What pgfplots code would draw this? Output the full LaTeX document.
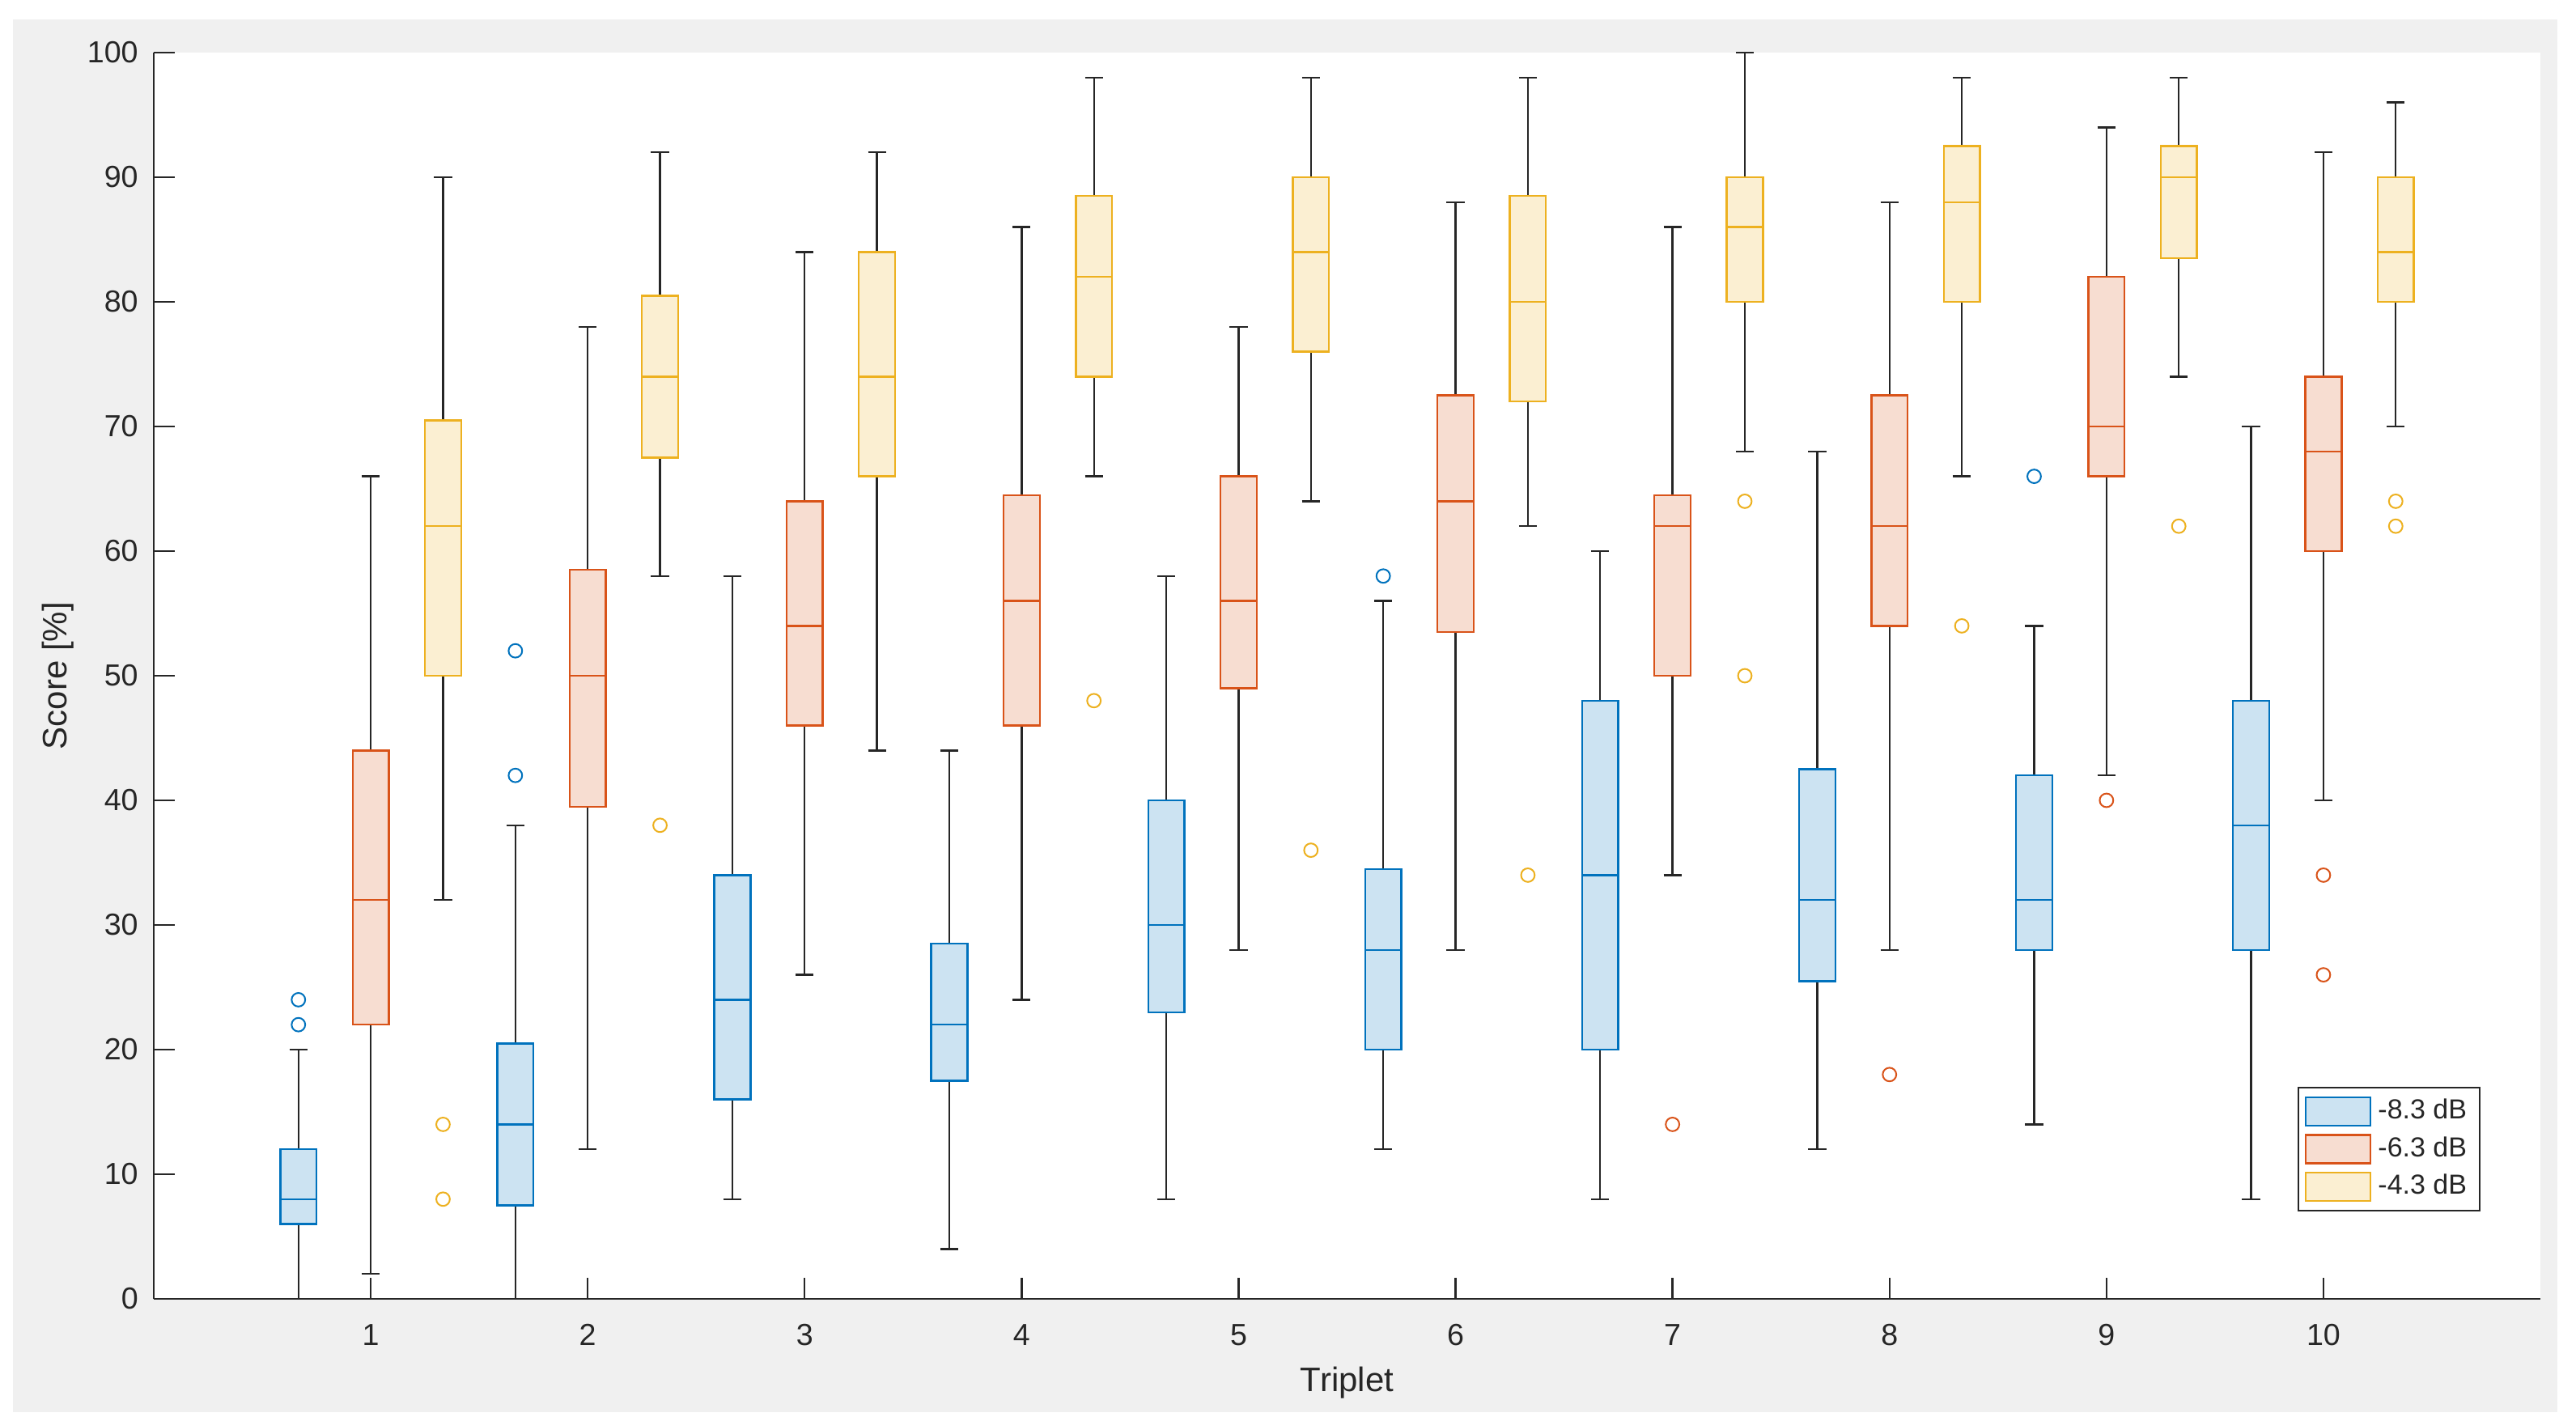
\documentclass[border=0pt]{standalone}
\usepackage{pgfplots}
\pgfplotsset{compat=1.18}
\usepgfplotslibrary{statistics}
\usepackage{fontspec}
\setmainfont{Liberation Sans}

\definecolor{cA}{HTML}{0072BD}
\definecolor{fA}{HTML}{CCE3F2}
\definecolor{cB}{HTML}{D95319}
\definecolor{fB}{HTML}{F7DDD1}
\definecolor{cC}{HTML}{EDB120}
\definecolor{fC}{HTML}{FBEFD2}
\definecolor{wk}{HTML}{262626}
\definecolor{bg}{HTML}{F0F0F0}

\pgfplotsset{
  bx/.style n args={2}{#1, forget plot, mark=o, mark size=2.1pt,
    mark options={solid, line width=0.5pt, draw=#1, fill=none},
    boxplot/draw direction=y,
    boxplot/box extend=0.167, boxplot/whisker extend=0.083,
    boxplot/every box/.style={draw=#1, fill=#2, line width=0.6pt},
    boxplot/every median/.style={draw=#1, line width=0.6pt},
    boxplot/every whisker/.style={draw=wk, line width=0.6pt}},
  bA/.style={bx={cA}{fA}},
  bB/.style={bx={cB}{fB}},
  bC/.style={bx={cC}{fC}},
}

\begin{document}
\begin{tikzpicture}
% figure background (MATLAB grey)
\fill[white] (-47.5pt,-36.25pt) rectangle (748.25pt,401.25pt);
\fill[bg] (-43.5pt,-35pt) rectangle (742.5pt,395.25pt);
\begin{axis}[
  scale only axis,
  width=737.25pt, height=385pt,
  xmin=0, xmax=11, ymin=0, ymax=100,
  xtick={1,...,10}, ytick={0,10,...,100},
  axis lines=left,
  axis line style={-, draw=wk, line width=0.6pt},
  tick style={draw=wk, line width=0.6pt},
  major tick length=6.5pt, tick align=inside,
  axis background/.style={fill=white},
  clip=false,
  /pgf/number format/assume math mode=true,
  tick label style={font=\fontsize{9.4}{11}\selectfont, text=wk},
  xticklabel style={anchor=base, yshift=-14.25pt},
  yticklabel style={xshift=-1.3pt},
  xlabel={Triplet}, ylabel={Score [\%]},
  label style={font=\fontsize{10.5}{12}\selectfont, text=wk},
  xlabel style={at={(axis description cs:0.5,-0.0746)}, anchor=base},
  ylabel style={at={(axis description cs:-0.0403,0.5)}, anchor=center},
  legend cell align=left,
  legend style={at={(axis description cs:0.975,0.07)}, anchor=south east,
    draw=wk, line width=0.6pt, fill=white, text=wk,
    font=\fontsize{8.5}{10}\selectfont, inner xsep=2pt, inner ysep=1.5pt, row sep=0pt},
]
\addlegendimage{legend image code/.code={\draw[draw=cA, fill=fA, line width=0.6pt] (0pt,-4.4pt) rectangle (20pt,4.4pt);}}
\addlegendentry{-8.3 dB}
\addlegendimage{legend image code/.code={\draw[draw=cB, fill=fB, line width=0.6pt] (0pt,-4.4pt) rectangle (20pt,4.4pt);}}
\addlegendentry{-6.3 dB}
\addlegendimage{legend image code/.code={\draw[draw=cC, fill=fC, line width=0.6pt] (0pt,-4.4pt) rectangle (20pt,4.4pt);}}
\addlegendentry{-4.3 dB}

% Triplet 1
\addplot[bA, boxplot prepared={draw position=0.6667, lower whisker=0, lower quartile=6, median=8, upper quartile=12, upper whisker=20}] coordinates {(0,22) (0,24)};
\addplot[bB, boxplot prepared={draw position=1, lower whisker=2, lower quartile=22, median=32, upper quartile=44, upper whisker=66}] coordinates {};
\addplot[bC, boxplot prepared={draw position=1.3333, lower whisker=32, lower quartile=50, median=62, upper quartile=70.5, upper whisker=90}] coordinates {(0,8) (0,14)};
% Triplet 2
\addplot[bA, boxplot prepared={draw position=1.6667, lower whisker=0, lower quartile=7.5, median=14, upper quartile=20.5, upper whisker=38}] coordinates {(0,42) (0,52)};
\addplot[bB, boxplot prepared={draw position=2, lower whisker=12, lower quartile=39.5, median=50, upper quartile=58.5, upper whisker=78}] coordinates {};
\addplot[bC, boxplot prepared={draw position=2.3333, lower whisker=58, lower quartile=67.5, median=74, upper quartile=80.5, upper whisker=92}] coordinates {(0,38)};
% Triplet 3
\addplot[bA, boxplot prepared={draw position=2.6667, lower whisker=8, lower quartile=16, median=24, upper quartile=34, upper whisker=58}] coordinates {};
\addplot[bB, boxplot prepared={draw position=3, lower whisker=26, lower quartile=46, median=54, upper quartile=64, upper whisker=84}] coordinates {};
\addplot[bC, boxplot prepared={draw position=3.3333, lower whisker=44, lower quartile=66, median=74, upper quartile=84, upper whisker=92}] coordinates {};
% Triplet 4
\addplot[bA, boxplot prepared={draw position=3.6667, lower whisker=4, lower quartile=17.5, median=22, upper quartile=28.5, upper whisker=44}] coordinates {};
\addplot[bB, boxplot prepared={draw position=4, lower whisker=24, lower quartile=46, median=56, upper quartile=64.5, upper whisker=86}] coordinates {};
\addplot[bC, boxplot prepared={draw position=4.3333, lower whisker=66, lower quartile=74, median=82, upper quartile=88.5, upper whisker=98}] coordinates {(0,48)};
% Triplet 5
\addplot[bA, boxplot prepared={draw position=4.6667, lower whisker=8, lower quartile=23, median=30, upper quartile=40, upper whisker=58}] coordinates {};
\addplot[bB, boxplot prepared={draw position=5, lower whisker=28, lower quartile=49, median=56, upper quartile=66, upper whisker=78}] coordinates {};
\addplot[bC, boxplot prepared={draw position=5.3333, lower whisker=64, lower quartile=76, median=84, upper quartile=90, upper whisker=98}] coordinates {(0,36)};
% Triplet 6
\addplot[bA, boxplot prepared={draw position=5.6667, lower whisker=12, lower quartile=20, median=28, upper quartile=34.5, upper whisker=56}] coordinates {(0,58)};
\addplot[bB, boxplot prepared={draw position=6, lower whisker=28, lower quartile=53.5, median=64, upper quartile=72.5, upper whisker=88}] coordinates {};
\addplot[bC, boxplot prepared={draw position=6.3333, lower whisker=62, lower quartile=72, median=80, upper quartile=88.5, upper whisker=98}] coordinates {(0,34)};
% Triplet 7
\addplot[bA, boxplot prepared={draw position=6.6667, lower whisker=8, lower quartile=20, median=34, upper quartile=48, upper whisker=60}] coordinates {};
\addplot[bB, boxplot prepared={draw position=7, lower whisker=34, lower quartile=50, median=62, upper quartile=64.5, upper whisker=86}] coordinates {(0,14)};
\addplot[bC, boxplot prepared={draw position=7.3333, lower whisker=68, lower quartile=80, median=86, upper quartile=90, upper whisker=100}] coordinates {(0,50) (0,64)};
% Triplet 8
\addplot[bA, boxplot prepared={draw position=7.6667, lower whisker=12, lower quartile=25.5, median=32, upper quartile=42.5, upper whisker=68}] coordinates {};
\addplot[bB, boxplot prepared={draw position=8, lower whisker=28, lower quartile=54, median=62, upper quartile=72.5, upper whisker=88}] coordinates {(0,18)};
\addplot[bC, boxplot prepared={draw position=8.3333, lower whisker=66, lower quartile=80, median=88, upper quartile=92.5, upper whisker=98}] coordinates {(0,54)};
% Triplet 9
\addplot[bA, boxplot prepared={draw position=8.6667, lower whisker=14, lower quartile=28, median=32, upper quartile=42, upper whisker=54}] coordinates {(0,66)};
\addplot[bB, boxplot prepared={draw position=9, lower whisker=42, lower quartile=66, median=70, upper quartile=82, upper whisker=94}] coordinates {(0,40)};
\addplot[bC, boxplot prepared={draw position=9.3333, lower whisker=74, lower quartile=83.5, median=90, upper quartile=92.5, upper whisker=98}] coordinates {(0,62)};
% Triplet 10
\addplot[bA, boxplot prepared={draw position=9.6667, lower whisker=8, lower quartile=28, median=38, upper quartile=48, upper whisker=70}] coordinates {};
\addplot[bB, boxplot prepared={draw position=10, lower whisker=40, lower quartile=60, median=68, upper quartile=74, upper whisker=92}] coordinates {(0,26) (0,34)};
\addplot[bC, boxplot prepared={draw position=10.3333, lower whisker=70, lower quartile=80, median=84, upper quartile=90, upper whisker=96}] coordinates {(0,62) (0,64)};
\end{axis}
\end{tikzpicture}
\end{document}
